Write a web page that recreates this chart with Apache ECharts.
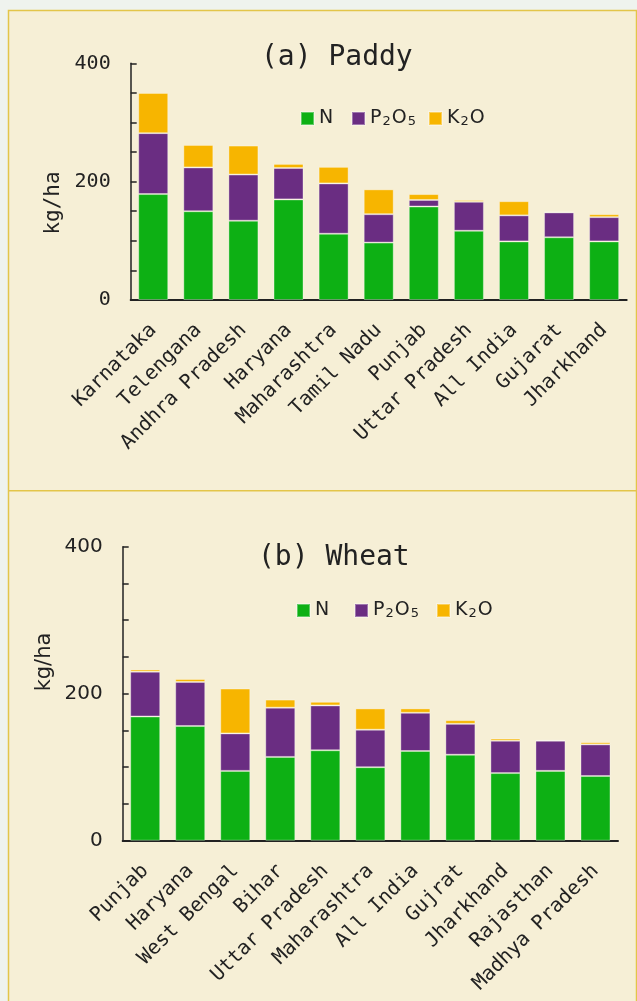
<!DOCTYPE html>
<html>
<head>
<meta charset="utf-8">
<script src="https://cdn.jsdelivr.net/npm/echarts@6/dist/echarts.min.js"></script>
<style>
html,body{margin:0;padding:0;background:#eff3ee;}
#chart{width:637px;height:1001px;}
</style>
</head>
<body>
<div id="chart"></div>
<script>
const paddyStates = ['Karnataka','Telengana','Andhra Pradesh','Haryana','Maharashtra','Tamil Nadu','Punjab','Uttar Pradesh','All India','Gujarat','Jharkhand'];
const paddyN = [179,150,134,170,112,97,158,117,99,106,99];
const paddyP = [103,74,78,53,85,48,11,49,44,42,41];
const paddyK = [68,38,49,7,28,42,10,3,24,1,5];

const wheatStates = ['Punjab','Haryana','West Bengal','Bihar','Uttar Pradesh','Maharashtra','All India','Gujrat','Jharkhand','Rajasthan','Madhya Pradesh'];
const wheatN = [169,156,95,114,123,100,122,117,92,95,88];
const wheatP = [61,60,51,67,61,51,52,42,44,41,43];
const wheatK = [3,4,61,11,5,29,6,5,3,1,3];

const nutrientNames = ['N','P\u2082O\u2085','K\u2082O'];
const nutrientRich = ['{a|N}','{a|P}{s|2}{a|O}{s|5}','{a|K}{s|2}{a|O}'];
const yTicks = [0,200,400];

const colors = ['#0db014','#6a2d82','#f7b500'];
const MONO = 'DejaVu Sans Mono';
const SANS = 'DejaVu Sans';
const INK = '#222';

function yAxisCfg(gi, font, size){
  return {
    gridIndex: gi, type:'value', min:0, max:400, interval:50,
    axisLine:{show:true, lineStyle:{color:INK, width:1.5}},
    axisTick:{show:true, inside:true, length:6, lineStyle:{color:INK, width:1.5}},
    splitLine:{show:false},
    axisLabel:{margin:20, fontFamily:font, fontSize:size, color:INK,
      formatter: v => yTicks.indexOf(v) >= 0 ? String(v) : ''}
  };
}
function xAxisCfg(gi, cats){
  return {
    gridIndex: gi, type:'category', data:cats,
    axisLine:{show:true, lineStyle:{color:INK, width:2}},
    axisTick:{show:false},
    axisLabel:{rotate:45, margin:27, interval:0, fontFamily:MONO, fontSize:20, color:INK}
  };
}
function barSeries(gi, name, data, color){
  return {
    type:'bar', name:name, stack:'s'+gi, xAxisIndex:gi, yAxisIndex:gi,
    data:data, barWidth:30,
    itemStyle:{color:color, borderColor:'rgba(255,255,255,0.35)', borderWidth:1},
    emphasis:{disabled:true}
  };
}
function legendItem(i, left, top){
  return {
    left:left, top:top, padding:0, itemWidth:13, itemHeight:13,
    icon:'rect', data:[nutrientNames[i]], selectedMode:false,
    formatter: () => nutrientRich[i],
    textStyle:{color:INK, rich:{
      a:{fontFamily:SANS, fontSize:19, lineHeight:19, color:INK},
      s:{fontFamily:SANS, fontSize:13, lineHeight:11, verticalAlign:'bottom', padding:[0,1,0,1], color:INK}
    }}
  };
}

const chart = echarts.init(document.getElementById('chart'));
chart.setOption({
  animation:false,
  backgroundColor:'#eff3ee',
  graphic:[
    {type:'rect', z:-10, shape:{x:8.5, y:10.5, width:628, height:1000}, style:{fill:'#f6efd6', stroke:'#e3c54a', lineWidth:1.5}},
    {type:'line', z:-9, shape:{x1:8.5, y1:490.7, x2:637, y2:490.7}, style:{stroke:'#e3c54a', lineWidth:1.5}},
    {type:'text', x:54, y:203, rotation:Math.PI/2, style:{text:'kg/ha', fontFamily:MONO, fontSize:21, fill:INK, textAlign:'center', textVerticalAlign:'middle'}},
    {type:'text', x:45, y:662, rotation:Math.PI/2, style:{text:'kg/ha', fontFamily:SANS, fontSize:21, fill:INK, textAlign:'center', textVerticalAlign:'middle'}}
  ],
  title:[
    {text:'(a) Paddy', left:261, top:44, padding:0, textStyle:{fontFamily:MONO, fontSize:28, fontWeight:'normal', color:INK}},
    {text:'(b) Wheat', left:258, top:544, padding:0, textStyle:{fontFamily:MONO, fontSize:28, fontWeight:'normal', color:INK}}
  ],
  legend:[
    legendItem(0, 300, 109), legendItem(1, 351, 109), legendItem(2, 428, 109),
    legendItem(0, 296, 601), legendItem(1, 354, 601), legendItem(2, 436, 601)
  ],
  grid:[
    {left:130.7, top:63.3, width:496, height:236.7},
    {left:122.7, top:546.7, width:495.3, height:294}
  ],
  xAxis:[ xAxisCfg(0, paddyStates), xAxisCfg(1, wheatStates) ],
  yAxis:[ yAxisCfg(0, MONO, 20), yAxisCfg(1, SANS, 20) ],
  series:[
    barSeries(0, nutrientNames[0], paddyN, colors[0]),
    barSeries(0, nutrientNames[1], paddyP, colors[1]),
    barSeries(0, nutrientNames[2], paddyK, colors[2]),
    barSeries(1, nutrientNames[0], wheatN, colors[0]),
    barSeries(1, nutrientNames[1], wheatP, colors[1]),
    barSeries(1, nutrientNames[2], wheatK, colors[2])
  ]
});
</script>
</body>
</html>
